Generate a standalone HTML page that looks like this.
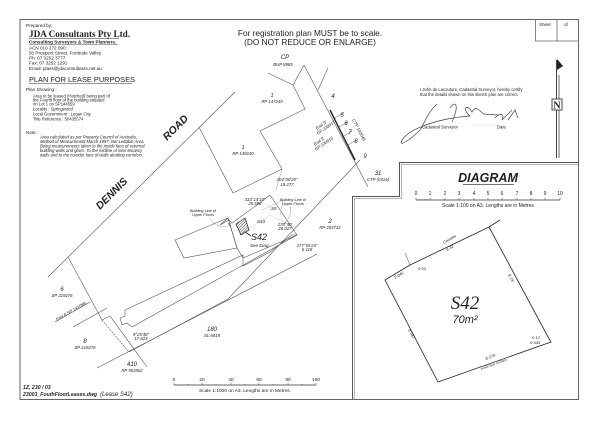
<!DOCTYPE html>
<html><head><meta charset="utf-8"><style>
html,body{margin:0;padding:0;background:#fff;}
svg{display:block;}
text{font-family:"Liberation Sans",sans-serif;fill:#222;}
.i{font-style:italic;}
</style></head><body>
<svg width="600" height="423" viewBox="0 0 600 423" xmlns="http://www.w3.org/2000/svg">
<rect x="0" y="0" width="600" height="423" fill="#fff"/>
<!-- frame -->
<rect x="20" y="19.5" width="558.5" height="380" fill="none" stroke="#666" stroke-width="1"/>
<!-- sheet box -->
<path d="M535.5 20 V41 H578 M557 20 V41" fill="none" stroke="#666" stroke-width="0.8"/>
<text x="539" y="26" font-size="4.5">Sheet</text><text x="564" y="26" font-size="4.5">of</text>
<!-- right panel stepped double border -->
<path d="M578 162.5 H399.5 V196.5 H352.5 V399" fill="none" stroke="#555" stroke-width="1"/>
<path d="M578 164.5 H401.5 V198.5 H354.5 V399" fill="none" stroke="#999" stroke-width="0.7"/>

<!-- header -->
<text x="310" y="36" font-size="8.3" text-anchor="middle" fill="#333">For registration plan MUST be to scale.</text>
<text x="310" y="45" font-size="8.3" text-anchor="middle" fill="#333">(DO NOT REDUCE OR ENLARGE)</text>

<!-- left info -->
<text x="26" y="27" font-size="4.6">Prepared by:</text>
<text x="29" y="37" font-size="9.2" font-weight="bold" font-family="Liberation Serif,serif" style="font-family:'Liberation Serif',serif">JDA Consultants Pty Ltd.</text>
<line x1="29" y1="38.5" x2="119" y2="38.5" stroke="#222" stroke-width="0.6"/>
<text x="29" y="43.5" font-size="4.6" font-weight="bold">Consulting Surveyors &amp; Town Planners.</text>
<line x1="29" y1="44.5" x2="118" y2="44.5" stroke="#222" stroke-width="0.4"/>
<text x="29" y="49.5" font-size="4.6">ACN  010  272  090</text>
<text x="29" y="54.5" font-size="4.6">50 Prospect Street, Fortitude Valley</text>
<text x="29" y="59.5" font-size="4.6">Ph:  07 3252 3777</text>
<text x="29" y="64.5" font-size="4.6">Fax:  07 3252 1291</text>
<text x="29" y="70" font-size="4.6">Email:  jdass@jdaconsultants.net.au</text>
<text x="29" y="82" font-size="7.4" fill="#333">PLAN FOR LEASE PURPOSES</text>
<line x1="29" y1="83.5" x2="132" y2="83.5" stroke="#333" stroke-width="0.5"/>
<text x="26" y="91" font-size="4.6">Plan Showing :</text>
<text x="33" y="97.5" font-size="4.2">Area to be leased (Hatched) being part of</text>
<text x="33" y="101.5" font-size="4.2">the Fourth floor of the building situated</text>
<text x="33" y="105.5" font-size="4.2">on Lot 1 on SP144559</text>
<text x="33" y="110.5" font-size="4.2">Locality : Springwood</text>
<text x="33" y="115.5" font-size="4.2">Local Government : Logan City</text>
<text x="33" y="120.5" font-size="4.2">Title Reference : 50435574</text>
<text x="26" y="134" font-size="4.6">Note :</text>
<text x="40" y="138.5" font-size="4.2" class="i">Area calculated as per Property Council of Australia,</text>
<text x="40" y="143" font-size="4.2" class="i">Method of Measurement March 1997, Net Lettable Area.</text>
<text x="40" y="147.5" font-size="4.2" class="i">Being measurements taken to the inside face of external</text>
<text x="40" y="152" font-size="4.2" class="i">building walls and glass. To the midline of inter-tenancy</text>
<text x="40" y="156.5" font-size="4.2" class="i">walls and to the corridor face of walls abutting corridors.</text>

<!-- certification -->
<text x="420" y="91" font-size="4.2">I John de Lacouture, Cadastral Surveyor, hereby certify</text>
<text x="420" y="96" font-size="4.2">that the details shown on this sketch plan are correct.</text>
<path d="M437 104 C428 112,425 122,420 130 C410 140,398 148,402 140 C410 128,440 118,470 116 C462 110,466 102,472 112 C476 104,480 112,484 114 L498 115 M450 108 C455 100,460 104,452 122 M495 118 C500 112,505 114,502 120 L512 110 M508 120 L515 110 L518 118" fill="none" stroke="#444" stroke-width="0.7"/>
<text x="422" y="128.5" font-size="4.2">Cadastral Surveyor</text>
<text x="497" y="128.5" font-size="4.2">Date</text>
<line x1="470" y1="125" x2="495" y2="125" stroke="#999" stroke-width="0.3" stroke-dasharray="1,1"/>

<!-- north arrow -->
<line x1="556.5" y1="60" x2="556.5" y2="158" stroke="#444" stroke-width="1"/>
<line x1="559" y1="75" x2="559" y2="158" stroke="#444" stroke-width="0.8"/>
<path d="M557 59 L563 66 L557 70 Z" fill="#222"/>
<rect x="552" y="99" width="10" height="11" fill="#fff" stroke="#222" stroke-width="0.8"/>
<text x="557" y="108.5" font-size="10" font-weight="bold" text-anchor="middle" style="font-family:'Liberation Serif',serif">N</text>

<!-- DIAGRAM title -->
<text x="488" y="182" font-size="12.5" font-weight="bold" class="i" text-anchor="middle" fill="#444">DIAGRAM</text>
<line x1="463" y1="184.5" x2="514" y2="184.5" stroke="#444" stroke-width="0.7"/>
<g font-size="5" text-anchor="middle" fill="#333">
<text x="416" y="195">0</text><text x="430" y="195">1</text><text x="445" y="195">2</text><text x="459" y="195">3</text><text x="474" y="195">4</text><text x="488" y="195">5</text><text x="502" y="195">6</text><text x="517" y="195">7</text><text x="531" y="195">8</text><text x="545" y="195">9</text><text x="560" y="195">10</text>
</g>
<line x1="416" y1="200" x2="560" y2="200" stroke="#333" stroke-width="0.8"/>
<path d="M416 198V200M430 198V200M445 198V200M459 198V200M474 198V200M488 198V200M502 198V200M517 198V200M531 198V200M545 198V200M560 198V200M419 199V200M422 199V200M425 199V200M427 199V200" stroke="#333" stroke-width="0.5"/>
<text x="488" y="207" font-size="5" text-anchor="middle" fill="#333">Scale  1:100 on A3.  Lengths are in Metres</text>

<!-- S42 diagram -->
<path d="M500 220 L489 227 L410 265 L385 280 L438 382 L551 342 L547 335 L489 227" fill="none" stroke="#222" stroke-width="0.8"/>
<line x1="405" y1="253" x2="410" y2="265" stroke="#444" stroke-width="0.5"/>
<text x="465" y="309" font-size="19" class="i" text-anchor="middle" style="font-family:'Liberation Serif',serif">S42</text>
<text x="465" y="323" font-size="11" class="i" text-anchor="middle" fill="#444">70m²</text>
<text x="444" y="244" font-size="4" class="i" transform="rotate(-30 444 244)">Corridor</text>
<text x="447" y="251" font-size="4" class="i" transform="rotate(-30 447 251)">8·32</text>
<text x="395" y="279" font-size="4" class="i" transform="rotate(-30 395 279)">2·045</text>
<text x="418" y="270" font-size="4" class="i">0·03</text>
<text x="508" y="275" font-size="4" class="i" transform="rotate(62 508 275)">8·19</text>
<text x="408" y="330" font-size="4" class="i" transform="rotate(62 408 330)">8·047</text>
<text x="532" y="339" font-size="4" class="i">0·12</text>
<text x="530" y="344" font-size="4" class="i">0·645</text>
<text x="486" y="360" font-size="4" class="i" transform="rotate(-20 486 360)">8·275</text>
<text x="481" y="370" font-size="3.2" class="i" transform="rotate(-20 481 370)">Inside face of Glass</text>

<!-- left map lines -->
<g fill="none" stroke="#555" stroke-width="0.6">
<line x1="48" y1="277" x2="235" y2="92"/>
<path d="M268 73 L293 85 L304 65 M293 85 L305 109 L260 131 L282 169 L233 193 L199 127"/>
<line x1="328" y1="68" x2="318" y2="90"/>
<line x1="304" y1="65" x2="368" y2="187"/>
<path d="M360 160 L228 299 L129 352"/>
<line x1="97" y1="368" x2="317" y2="254"/>
<path d="M68 257 L102 320 L110 316 L147 367"/>
<line x1="102" y1="320" x2="129" y2="352" stroke-dasharray="2,1"/>
<line x1="55" y1="322" x2="90" y2="302"/>
<line x1="73" y1="327" x2="107" y2="308"/>
<!-- buildings -->
<path d="M125 310 L243 255 L243 266 L270 252 L292 235 L297 235 L132 327 L127 323 L122 325 L120 318 L125 316 Z"/>
<path d="M175 240 L228 218 L237 248 L184 258 Z"/>
<path d="M220 225 L229 220 L232 223 L257 205 L270 195 L297 235 L243 258 L237 248 L228 218 L220 225 Z"/>
</g>
<line x1="330" y1="110" x2="355" y2="160" stroke="#222" stroke-width="1.4"/>
<path d="M334 118 L344 113 M339 127 L348 122 M344 136 L352 131 M348 145 L356 140" stroke="#555" stroke-width="0.5"/>
<line x1="282" y1="169" x2="276" y2="190" stroke="#555" stroke-width="0.5" stroke-dasharray="1.5,1"/>
<path d="M240 235 L270 215 L290 225" fill="none" stroke="#aaa" stroke-width="0.5" stroke-dasharray="1.5,1"/>
<path d="M262 210 L283 200 L280 215" fill="none" stroke="#aaa" stroke-width="0.5"/>
<!-- hatched S42 -->
<defs><pattern id="h" width="2" height="2" patternUnits="userSpaceOnUse" patternTransform="rotate(45)"><line x1="0" y1="0" x2="0" y2="2" stroke="#222" stroke-width="0.9"/></pattern></defs>
<path d="M236 224 L245 218 L249 230 L241 235 Z" fill="url(#h)" stroke="#222" stroke-width="0.7"/>
<line x1="245" y1="232" x2="251" y2="236" stroke="#222" stroke-width="0.8"/>
<text x="251" y="240" font-size="9" class="i">S42</text>
<text x="250" y="247" font-size="4.5" class="i">See Diag.</text>
<text x="257" y="223" font-size="4.5" class="i" fill="#999">S43</text>
<text x="271" y="210" font-size="4.5" class="i" fill="#999">S5</text>
<text x="228" y="226" font-size="4.5" fill="#999">V</text>
<path d="M210 219 C215 226,222 228,228 226 M290 206 C292 214,288 222,282 225" fill="none" stroke="#777" stroke-width="0.4"/>

<!-- road text -->
<text x="100" y="210" font-size="10.5" font-weight="bold" class="i" transform="rotate(-45 100 210)" fill="#222">DENNIS</text>
<text x="167" y="141" font-size="10.5" font-weight="bold" class="i" transform="rotate(-45 167 141)" fill="#222">ROAD</text>

<!-- lot labels -->
<g font-size="4.3" class="i" text-anchor="middle" fill="#333">
<text x="285" y="59" font-size="6">CP</text><text x="283" y="66">BUP 8985</text>
<text x="272" y="97" font-size="5.5">1</text><text x="272" y="103">RP 147249</text>
<text x="243" y="149" font-size="5.5">1</text><text x="243" y="155">RP 149240</text>
<text x="333" y="98" font-size="6">4</text><text x="342" y="117" font-size="6">5</text><text x="346" y="125" font-size="6">6</text><text x="350" y="134" font-size="6">7</text><text x="356" y="143" font-size="6">8</text><text x="365" y="158" font-size="6">9</text>
<text x="378" y="175" font-size="6">31</text><text x="378" y="181">CTP (0416)</text>
<text x="330" y="223" font-size="6">2</text><text x="330" y="229">RP 203732</text>
<text x="62" y="291" font-size="6">6</text><text x="62" y="297">SP 219276</text>
<text x="85" y="343" font-size="6">8</text><text x="85" y="349">SP 219276</text>
<text x="132" y="366" font-size="6">410</text><text x="132" y="372">RP 903502</text>
<text x="212" y="331" font-size="6">180</text><text x="212" y="337">SL 6919</text>
<text x="255" y="201">333°14'10"</text><text x="255" y="205">25.598</text>
<text x="287" y="181">204°00'20"</text><text x="287" y="186">18.277</text>
<text x="285" y="226">273°40'</text><text x="285" y="230">26.027</text>
<text x="307" y="247">277°55'24"</text><text x="307" y="251">6·118</text>
<text x="141" y="336">9°25'48"</text><text x="141" y="340">17.623</text>
<text x="203" y="212" font-size="3.8">Building Line of</text><text x="203" y="216" font-size="3.8">Upper Floors</text>
<text x="293" y="201" font-size="3.8">Building Line of</text><text x="293" y="205" font-size="3.8">Upper Floors</text>
</g>
<g font-size="4.3" class="i" fill="#333">
<text x="317" y="130" transform="rotate(-35 317 130)">Emt D</text><text x="318" y="135" transform="rotate(-35 318 135)">RP 220817</text>
<text x="315" y="146" transform="rotate(-35 315 146)">Emt E</text><text x="316" y="151" transform="rotate(-35 316 151)">RP 220816</text>
<text x="352" y="120" transform="rotate(62 352 120)">CTP 102048</text>
<text x="57" y="321" transform="rotate(-30 57 321)">Emt A  SP 141069</text>
</g>

<!-- bottom scale -->
<g font-size="4.8" text-anchor="middle" fill="#333">
<text x="174" y="381">0</text><text x="202" y="381">20</text><text x="231" y="381">40</text><text x="259" y="381">60</text><text x="288" y="381">80</text><text x="316" y="381">100</text>
</g>
<line x1="174" y1="385" x2="316" y2="385" stroke="#333" stroke-width="0.7"/>
<path d="M174 383V385M188 384V385M202 383V385M216 384V385M231 383V385M245 384V385M259 383V385M273 384V385M288 383V385M302 384V385M316 383V385" stroke="#333" stroke-width="0.5"/>
<text x="245" y="392" font-size="4.8" text-anchor="middle" fill="#333">Scale  1:1000 on A3.   Lengths are in Metres.</text>
<text x="23" y="389" font-size="5.2" font-weight="bold" class="i">1Z, 230 / 03</text>
<text x="23" y="396" font-size="5.2" font-weight="bold" class="i">23003_FouthFloorLeases.dwg</text>
<text x="100" y="396" font-size="6" class="i" fill="#555">(Lease S42)</text>
</svg>
</body></html>
